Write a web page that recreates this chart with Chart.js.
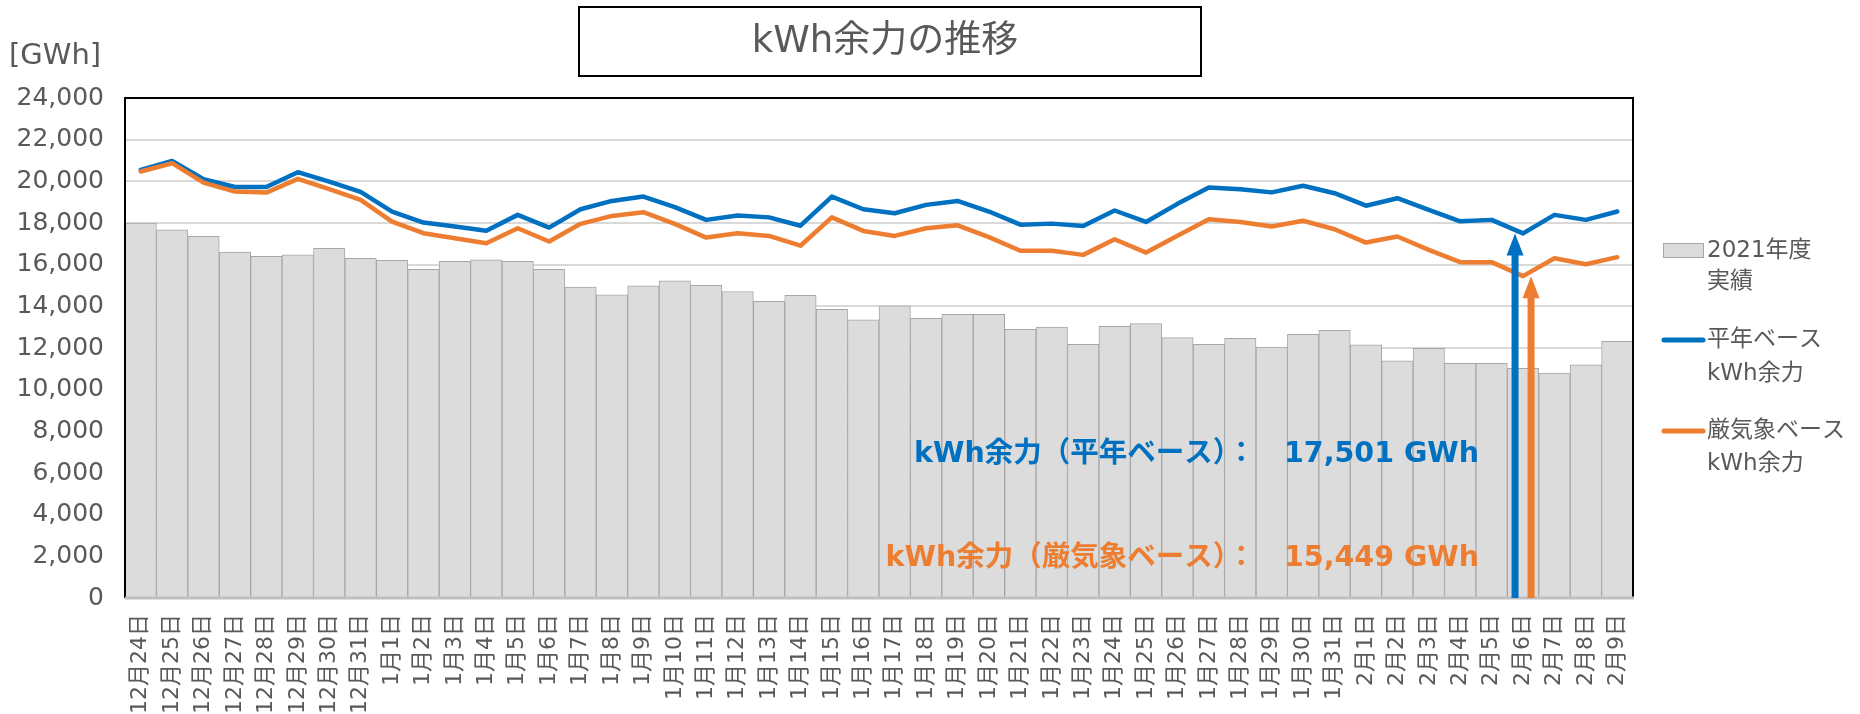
<!DOCTYPE html>
<html lang="ja">
<head>
<meta charset="utf-8">
<title>kWh余力の推移</title>
<script src="https://cdn.jsdelivr.net/npm/chart.js@4.4.1/dist/chart.umd.min.js"></script>
<style>
html,body{margin:0;padding:0;background:#fff;}
#wrap{width:1860px;height:714px;position:relative;}
</style>
</head>
<body>
<div id="wrap"><canvas id="c" width="1860" height="714"></canvas></div>
<script>
// ---------- DATA ----------
const categories = [
  "12月24日","12月25日","12月26日","12月27日","12月28日","12月29日","12月30日","12月31日",
  "1月1日","1月2日","1月3日","1月4日","1月5日","1月6日","1月7日","1月8日","1月9日","1月10日",
  "1月11日","1月12日","1月13日","1月14日","1月15日","1月16日","1月17日","1月18日","1月19日","1月20日",
  "1月21日","1月22日","1月23日","1月24日","1月25日","1月26日","1月27日","1月28日","1月29日","1月30日","1月31日",
  "2月1日","2月2日","2月3日","2月4日","2月5日","2月6日","2月7日","2月8日","2月9日"
];
const actual2021 = [
  18000,17670,17360,16600,16400,16470,16790,16310,
  16210,15780,16160,16230,16160,15780,14920,14550,14980,15230,
  15010,14710,14240,14530,13860,13350,14030,13430,13620,13620,
  12900,13000,12180,13040,13170,12500,12180,12470,12050,12660,12850,
  12150,11390,11990,11270,11270,11030,10800,11190,12320
];
const normalBase = [
  20550,20980,20100,19730,19730,20440,19990,19490,
  18550,18020,17830,17630,18390,17780,18660,19060,19270,18760,
  18150,18360,18270,17870,19270,18660,18470,18870,19060,18550,
  17920,17970,17860,18600,18050,18920,19700,19620,19470,19790,19430,
  18830,19190,18630,18080,18150,17501,18390,18150,18550
];
const severeBase = [
  20470,20870,19940,19510,19460,20120,19630,19110,
  18070,17510,17270,17030,17750,17110,17960,18340,18520,17960,
  17300,17510,17380,16910,18270,17620,17380,17750,17890,17320,
  16670,16670,16470,17220,16580,17390,18180,18050,17830,18110,17700,
  17060,17350,16710,16120,16120,15449,16310,16020,16360
];
const yMin = 0, yMax = 24000, yStep = 2000;
const highlightDay = "2月6日";
const seriesNames = { bar: ["2021年度", "実績"], normal: ["平年ベース", "kWh余力"], severe: ["厳気象ベース", "kWh余力"] };
const titleText = "kWh余力の推移";
const unitText = "[GWh]";

// ---------- STYLE ----------
const FONT = "'DejaVu Sans', 'Noto Sans CJK JP', sans-serif";
const GREY_TXT = "#595959";
const BLUE = "#0070C0";
const ORANGE = "#ED7D31";
const BAR_FILL = "#DCDCDC";
const BAR_EDGE = "#A6A6A6";

const fmt = v => Number(v).toLocaleString('en-US');

function drawArrow(ctx, x, yBase, yTip, color) {
  const shaftW = 7, headW = 17, headL = 22;
  ctx.save();
  ctx.fillStyle = color;
  ctx.fillRect(x - shaftW / 2, yTip + headL - 1, shaftW, yBase - (yTip + headL - 1));
  ctx.beginPath();
  ctx.moveTo(x, yTip);
  ctx.lineTo(x + headW / 2, yTip + headL);
  ctx.lineTo(x - headW / 2, yTip + headL);
  ctx.closePath();
  ctx.fill();
  ctx.restore();
}

const decor = {
  id: 'decor',
  beforeDraw(chart) {
    const ctx = chart.ctx;
    ctx.save();
    ctx.fillStyle = '#fff';
    ctx.fillRect(0, 0, chart.width, chart.height);
    ctx.restore();
  },
  afterDatasetsDraw(chart) {
    const { ctx, chartArea: a, scales: { x, y } } = chart;
    ctx.save();
    // plot frame
    ctx.strokeStyle = '#000';
    ctx.lineWidth = 2;
    ctx.beginPath();
    ctx.moveTo(a.left, a.bottom);
    ctx.lineTo(a.left, a.top);
    ctx.lineTo(a.right, a.top);
    ctx.lineTo(a.right, a.bottom);
    ctx.stroke();
    ctx.strokeStyle = '#BFBFBF';
    ctx.lineWidth = 3;
    ctx.beginPath();
    ctx.moveTo(a.left, a.bottom);
    ctx.lineTo(a.right + 1, a.bottom);
    ctx.stroke();

    // arrows at highlighted day
    const idx = categories.indexOf(highlightDay);
    const cx = x.getPixelForValue(idx);
    drawArrow(ctx, cx - 8, a.bottom, y.getPixelForValue(normalBase[idx]), BLUE);
    drawArrow(ctx, cx + 8, a.bottom, y.getPixelForValue(severeBase[idx]), ORANGE);

    // annotation texts
    ctx.font = "bold 28.5px " + FONT;
    ctx.textAlign = 'right';
    ctx.textBaseline = 'middle';
    ctx.fillStyle = BLUE;
    ctx.fillText("kWh余力（平年ベース）：　" + fmt(normalBase[idx]) + " GWh", 1479, 455);
    ctx.fillStyle = ORANGE;
    ctx.fillText("kWh余力（厳気象ベース）：　" + fmt(severeBase[idx]) + " GWh", 1479, 559);

    // title box
    ctx.strokeStyle = '#000';
    ctx.lineWidth = 2;
    ctx.strokeRect(579, 7, 622, 69);
    ctx.fillStyle = GREY_TXT;
    ctx.textAlign = 'center';
    ctx.font = "37px " + FONT;
    ctx.fillText(titleText, 885, 42);

    // unit label
    ctx.textAlign = 'left';
    ctx.font = "29px " + FONT;
    ctx.fillText(unitText, 9, 56);

    // legend
    ctx.font = "23px " + FONT;
    ctx.fillStyle = BAR_FILL;
    ctx.fillRect(1663, 243, 40, 14);
    ctx.strokeStyle = BAR_EDGE;
    ctx.lineWidth = 1;
    ctx.strokeRect(1663.5, 243.5, 40, 14);
    ctx.fillStyle = GREY_TXT;
    ctx.fillText(seriesNames.bar[0], 1707, 251);
    ctx.fillText(seriesNames.bar[1], 1707, 282);

    ctx.lineCap = 'round';
    ctx.lineWidth = 5;
    ctx.strokeStyle = BLUE;
    ctx.beginPath(); ctx.moveTo(1664, 340); ctx.lineTo(1703, 340); ctx.stroke();
    ctx.fillText(seriesNames.normal[0], 1707, 340);
    ctx.fillText(seriesNames.normal[1], 1707, 374);

    ctx.strokeStyle = ORANGE;
    ctx.beginPath(); ctx.moveTo(1664, 431); ctx.lineTo(1703, 431); ctx.stroke();
    ctx.fillText(seriesNames.severe[0], 1707, 431);
    ctx.fillText(seriesNames.severe[1], 1707, 464);
    ctx.restore();
  }
};

new Chart(document.getElementById('c'), {
  type: 'bar',
  data: {
    labels: categories,
    datasets: [
      {
        type: 'line', label: seriesNames.severe.join(''), data: severeBase,
        borderColor: ORANGE, borderWidth: 4.5, pointRadius: 0, tension: 0,
        borderCapStyle: 'round', borderJoinStyle: 'round', fill: false, order: 0
      },
      {
        type: 'line', label: seriesNames.normal.join(''), data: normalBase,
        borderColor: BLUE, borderWidth: 4.5, pointRadius: 0, tension: 0,
        borderCapStyle: 'round', borderJoinStyle: 'round', fill: false, order: 1
      },
      {
        type: 'bar', label: seriesNames.bar.join(''), data: actual2021,
        backgroundColor: BAR_FILL, borderColor: BAR_EDGE, borderWidth: 1,
        barPercentage: 1.0, categoryPercentage: 1.0, order: 2
      }
    ]
  },
  options: {
    responsive: false,
    animation: false,
    devicePixelRatio: 1,
    layout: { padding: { left: 0, right: 227, top: 98, bottom: 0 } },
    plugins: { legend: { display: false }, title: { display: false }, tooltip: { enabled: false } },
    scales: {
      x: {
        offset: true,
        grid: { display: false, drawTicks: false },
        border: { display: false },
        ticks: {
          autoSkip: false, maxRotation: 90, minRotation: 90, padding: 16,
          color: GREY_TXT, font: { family: FONT, size: 22 }
        },
        afterFit(s) { s.height = 116; }
      },
      y: {
        min: yMin, max: yMax,
        grid: { color: '#D9D9D9', lineWidth: 2, drawTicks: false },
        border: { display: false },
        ticks: {
          stepSize: yStep, padding: 21, color: GREY_TXT,
          font: { family: FONT, size: 25 },
          callback: v => fmt(v)
        },
        afterFit(s) { s.width = 125; }
      }
    }
  },
  plugins: [decor]
});
</script>
</body>
</html>
